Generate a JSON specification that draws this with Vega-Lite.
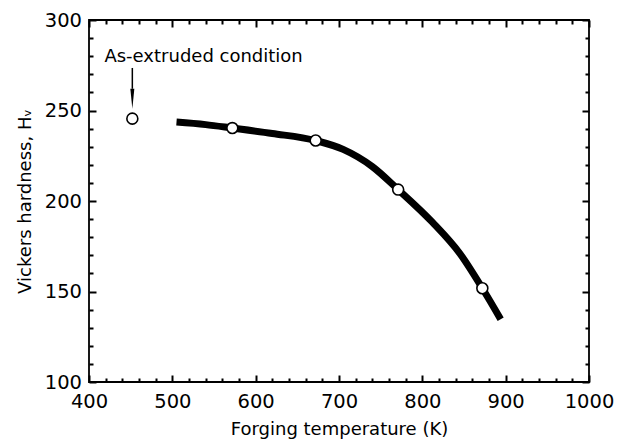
{
  "$schema": "https://vega.github.io/schema/vega-lite/v6.json",
  "width": 500,
  "height": 362,
  "autosize": {"type": "none"},
  "padding": {"left": 89, "top": 20, "right": 30, "bottom": 61},
  "background": "white",
  "config": {
    "view": {"stroke": "black", "strokeWidth": 1.8},
    "font": "DejaVu Sans",
    "axis": {
      "domain": false,
      "ticks": true,
      "tickColor": "#000000",
      "tickOpacity": 1,
      "tickWidth": 2,
      "grid": false,
      "zindex": 1,
      "labelFont": "DejaVu Sans",
      "labelFontSize": 19.5,
      "labelColor": "black",
      "titleFont": "DejaVu Sans",
      "titleFontSize": 18,
      "titleFontWeight": "normal",
      "titleColor": "black"
    }
  },
  "datasets": {
    "curve": [
      {"T": 505, "H": 243.6},
      {"T": 540, "H": 242.2},
      {"T": 572, "H": 240.3},
      {"T": 620, "H": 237.3},
      {"T": 672, "H": 233.4},
      {"T": 705, "H": 228.5},
      {"T": 740, "H": 219.0},
      {"T": 771, "H": 206.3},
      {"T": 812, "H": 188.3},
      {"T": 845, "H": 171.0},
      {"T": 872, "H": 151.8},
      {"T": 894, "H": 134.7}
    ],
    "points": [
      {"T": 452, "H": 245.5},
      {"T": 572, "H": 240.3},
      {"T": 672, "H": 233.4},
      {"T": 771, "H": 206.3},
      {"T": 872, "H": 151.8}
    ],
    "arrow": [{"T": 452, "H1": 273.5, "H2": 262, "Hh": 256.5}],
    "note": [{"T": 418.5, "H": 277, "label": "As-extruded condition"}]
  },
  "resolve": {"axis": {"x": "independent", "y": "independent"}},
  "layer": [
    {
      "data": {"name": "curve"},
      "mark": {"type": "line", "color": "black", "strokeWidth": 7, "interpolate": "monotone", "strokeCap": "butt"},
      "encoding": {
        "x": {
          "field": "T", "type": "quantitative",
          "scale": {"domain": [400, 1000], "nice": false, "zero": false},
          "axis": {
            "orient": "bottom",
            "title": "Forging temperature (K)",
            "titlePadding": 10,
            "values": [400,420,440,460,480,500,520,540,560,580,600,620,640,660,680,700,720,740,760,780,800,820,840,860,880,900,920,940,960,980,1000],
            "labelExpr": "datum.value % 100 === 0 ? format(datum.value, 'd') : ''",
            "offset": -7,
            "tickSize": 7,
            "tickDash": {"condition": {"test": "datum.value % 100 === 0", "value": [7, 0]}, "value": [0, 3, 4]},
            "labelPadding": 10,
            "labelFlush": false,
            "labelOverlap": false
          }
        },
        "y": {
          "field": "H", "type": "quantitative",
          "scale": {"domain": [100, 300], "nice": false, "zero": false},
          "axis": {
            "orient": "left",
            "title": "Vickers hardness, Hᵥ",
            "titlePadding": 10,
            "values": [100,110,120,130,140,150,160,170,180,190,200,210,220,230,240,250,260,270,280,290,300],
            "labelExpr": "datum.value % 50 === 0 ? format(datum.value, 'd') : ''",
            "offset": -7,
            "tickSize": 7,
            "tickDash": {"condition": {"test": "datum.value % 50 === 0", "value": [7, 0]}, "value": [0, 3, 4]},
            "labelPadding": 7.5,
            "labelFlush": false,
            "labelOverlap": false
          }
        }
      }
    },
    {
      "data": {"name": "points"},
      "mark": {"type": "point", "shape": "circle", "filled": true, "fill": "white", "stroke": "black", "strokeWidth": 1.6, "size": 120, "opacity": 1},
      "encoding": {
        "x": {
          "field": "T", "type": "quantitative",
          "axis": {
            "orient": "top", "title": null, "labels": false,
            "offset": -7,
            "tickSize": 7,
            "values": [400,420,440,460,480,500,520,540,560,580,600,620,640,660,680,700,720,740,760,780,800,820,840,860,880,900,920,940,960,980,1000],
            "tickDash": {"condition": {"test": "datum.value % 100 === 0", "value": [7, 0]}, "value": [0, 3, 4]}
          }
        },
        "y": {
          "field": "H", "type": "quantitative",
          "axis": {
            "orient": "right", "title": null, "labels": false,
            "offset": -7,
            "tickSize": 7,
            "values": [100,110,120,130,140,150,160,170,180,190,200,210,220,230,240,250,260,270,280,290,300],
            "tickDash": {"condition": {"test": "datum.value % 50 === 0", "value": [7, 0]}, "value": [0, 3, 4]}
          }
        }
      }
    },
    {
      "data": {"name": "arrow"},
      "mark": {"type": "rule", "color": "black", "strokeWidth": 1.5},
      "encoding": {
        "x": {"field": "T", "type": "quantitative", "axis": null},
        "y": {"field": "H1", "type": "quantitative", "axis": null},
        "y2": {"field": "H2"}
      }
    },
    {
      "data": {"name": "arrow"},
      "mark": {"type": "point", "shape": "M-0.2,-1L0.2,-1L0,1Z", "filled": true, "color": "black", "size": 400, "opacity": 1},
      "encoding": {
        "x": {"field": "T", "type": "quantitative", "axis": null},
        "y": {"field": "Hh", "type": "quantitative", "axis": null}
      }
    },
    {
      "data": {"name": "note"},
      "mark": {"type": "text", "align": "left", "baseline": "alphabetic", "fontSize": 18, "font": "DejaVu Sans", "color": "black"},
      "encoding": {
        "x": {"field": "T", "type": "quantitative", "axis": null},
        "y": {"field": "H", "type": "quantitative", "axis": null},
        "text": {"field": "label"}
      }
    }
  ]
}
